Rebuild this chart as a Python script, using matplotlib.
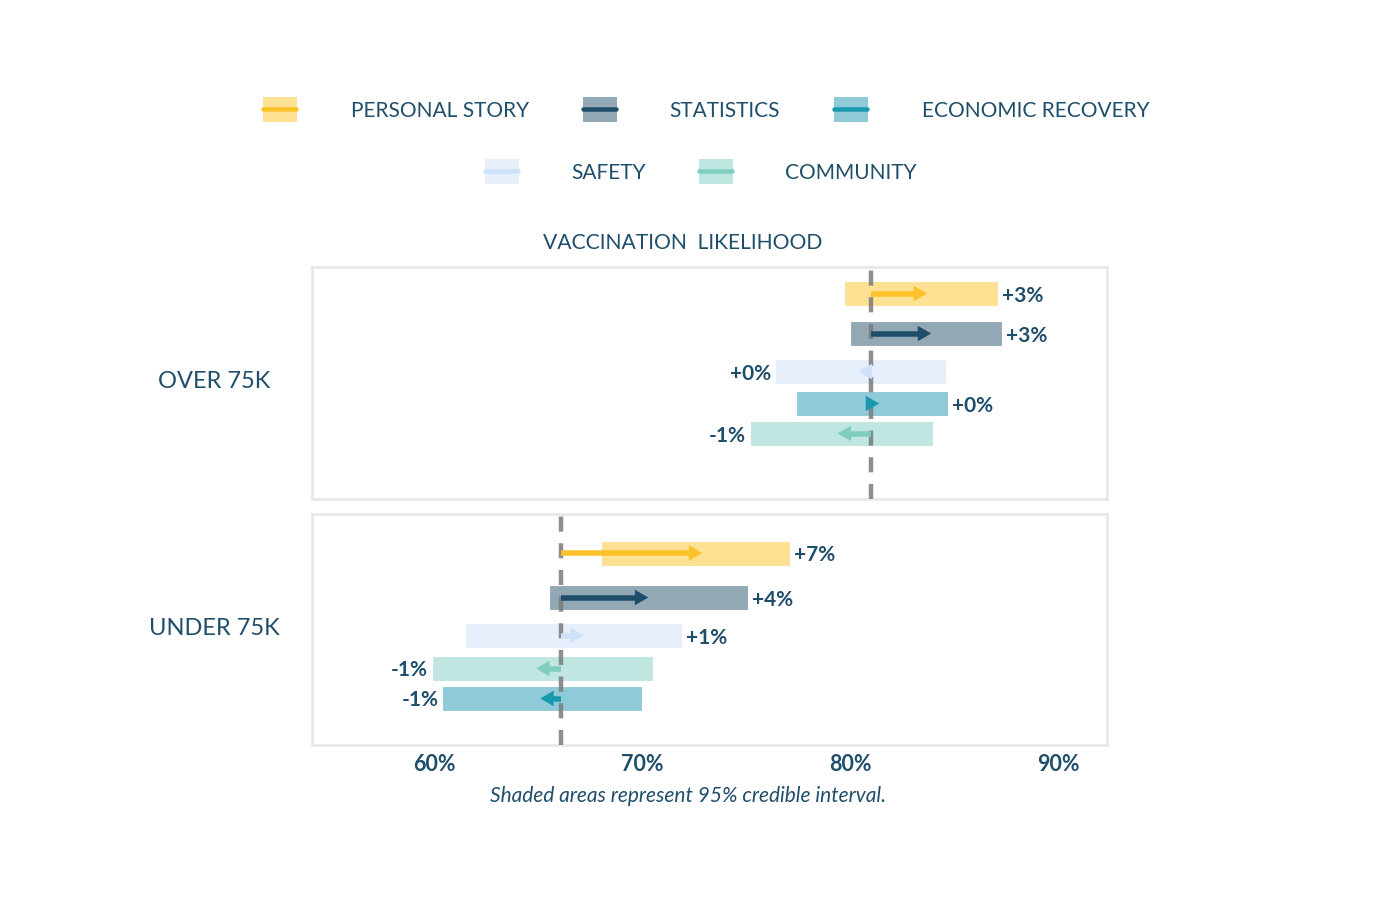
#!/usr/bin/env python3

import numpy as np
import matplotlib
matplotlib.use('Agg')
import matplotlib.pyplot as plt

# ------------------------------------------------------------
# data
# ------------------------------------------------------------
categories = ["PERSONAL STORY", "STATISTICS", "ECONOMIC RECOVERY", "SAFETY", "COMMUNITY"]
groups = ["OVER 75K", "UNDER 75K"]
baselines = [81.0, 66.1]

# effect point (arrow tip) and 95% interval, in category order
over_tip = [83.7, 83.9, 81.4, 80.4, 79.4]
over_low = [79.7, 80.0, 77.4, 76.4, 75.2]
over_high = [87.1, 87.3, 84.7, 84.6, 84.0]
over_labels = ["+3%", "+3%", "+0%", "+0%", "-1%"]

under_tip = [72.9, 70.3, 65.1, 67.2, 64.9]
under_low = [68.0, 65.5, 60.4, 61.5, 59.9]
under_high = [77.1, 75.1, 70.0, 71.9, 70.5]
under_labels = ["+7%", "+4%", "-1%", "+1%", "-1%"]

tick_values = [60, 70, 80, 90]
tick_labels = ["60%", "70%", "80%", "90%"]

# ------------------------------------------------------------
# styles / layout
# ------------------------------------------------------------
bar_colors = ["#FFE194", "#92A9B5", "#8FCAD8", "#E7EFFC", "#BFE6E1"]
arrow_colors = ["#FDC12A", "#1F4E6B", "#1A98AD", "#CFE1F8", "#7ECDBF"]
text_color = "#1F4E6B"
box_color = "#E6E6E6"

# row centre offsets (pixels from top of each panel), category order
row_offsets = [[26.5, 66.5, 136.5, 104.5, 166.5],
               [39.0, 83.5, 184.5, 121.5, 154.5]]

W, H = 1382, 903
DPI = 100
plt.rcParams['font.family'] = ['Lato', 'DejaVu Sans']


def fx(x):
    return x / W


def fy(y):
    return 1 - y / H


fig = plt.figure(figsize=(W / DPI, H / DPI), dpi=DPI)
fig.patch.set_facecolor('white')

# panels: pixel boxes (left, top, right, bottom)
panel_px = [(312, 268, 1107, 500), (312, 515, 1107, 746)]
xlim = (54.13, 92.35)

tips = [over_tip, under_tip]
lows = [over_low, under_low]
highs = [over_high, under_high]
labels = [over_labels, under_labels]

bar_h = 25
head_len_px = 13.5
head_w_px = 15.5
shaft_px = 5.5

axes = []
for g, (l, t, r, b) in enumerate(panel_px):
    ax = fig.add_axes([fx(l), fy(b), fx(r - l), (b - t) / H])
    axes.append(ax)
    ax.set_xlim(*xlim)
    ax.set_ylim(b - t, 0)
    px_per_unit = (r - l) / (xlim[1] - xlim[0])
    hl = head_len_px / px_per_unit
    base = baselines[g]

    # interval bars
    for i in range(len(categories)):
        y = row_offsets[g][i]
        ax.barh(y, highs[g][i] - lows[g][i], left=lows[g][i], height=bar_h,
                color=bar_colors[i], edgecolor='white', linewidth=0.8, zorder=2)

    # baseline
    ax.axvline(base, color='#7A7A7A', linewidth=3.2, alpha=0.85,
               linestyle=(0, (3.4, 2.6)), zorder=3)

    # arrows from baseline to effect
    for i in range(len(categories)):
        y = row_offsets[g][i]
        tip = tips[g][i]
        d = 1 if tip >= base else -1
        shaft_end = tip - d * hl * 0.6
        if (shaft_end - base) * d > 0:
            ax.plot([base, shaft_end], [y, y], color=arrow_colors[i],
                    linewidth=shaft_px * 72 / DPI, solid_capstyle='butt', zorder=4)
        ax.fill([tip, tip - d * hl, tip - d * hl],
                [y, y - head_w_px / 2, y + head_w_px / 2],
                color=arrow_colors[i], linewidth=0, zorder=4)

        # value label
        if d > 0:
            ax.annotate(labels[g][i], xy=(highs[g][i], y + 1), xytext=(3, 0),
                        textcoords='offset points', ha='left', va='center',
                        fontsize=15, fontweight='bold', color=text_color)
        else:
            ax.annotate(labels[g][i], xy=(lows[g][i], y + 1), xytext=(-3, 0),
                        textcoords='offset points', ha='right', va='center',
                        fontsize=15, fontweight='bold', color=text_color)

    for s in ax.spines.values():
        s.set_color(box_color)
        s.set_linewidth(1.8)
    ax.set_yticks([])
    ax.tick_params(axis='x', length=0)
    if g == 0:
        ax.set_xticks([])
    else:
        ax.set_xticks(tick_values)
        ax.set_xticklabels(tick_labels, fontsize=15.5, fontweight='bold', color=text_color)
        ax.tick_params(axis='x', pad=6)

    # group label
    fig.text(fx(214), fy((t + b) / 2 - 2), groups[g], ha='center', va='center',
             fontsize=17, color=text_color)

# title and footnote
fig.text(fx(683), fy(243), "VACCINATION  LIKELIHOOD", ha='center', va='center',
         fontsize=15.2, color=text_color)
fig.text(fx(688), fy(796), "Shaded areas represent 95% credible interval.",
         ha='center', va='center', fontsize=15, style='italic', color=text_color)

# legend drawn in a full-figure overlay in pixel units
lax = fig.add_axes([0, 0, 1, 1], zorder=-1)
lax.set_xlim(0, W)
lax.set_ylim(H, 0)
lax.axis('off')
legend_pos = [(263, 110, 351), (583, 110, 669), (834, 110, 922),
              (485, 172, 571), (699, 172, 785)]
for i, name in enumerate(categories):
    sx, sy, tx = legend_pos[i]
    lax.add_patch(plt.Rectangle((sx, sy - 12.5), 34, 25, color=bar_colors[i], linewidth=0))
    lax.plot([sx, sx + 33], [sy, sy], color=arrow_colors[i], linewidth=4.5 * 72 / DPI,
             solid_capstyle='round')
    lax.text(tx, sy + 1, name, ha='left', va='center', fontsize=15, color=text_color)

plt.savefig("out.png", dpi=DPI)
